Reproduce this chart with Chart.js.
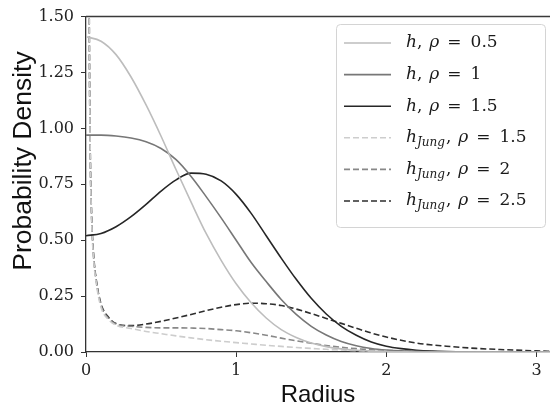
<!DOCTYPE html>
<html>
<head>
<meta charset="utf-8">
<script src="https://cdn.jsdelivr.net/npm/chart.js@4.4.0/dist/chart.umd.min.js"></script>
<style>
  html, body { margin: 0; padding: 0; background: #fff; }
  #wrap { width: 550px; height: 410px; }
</style>
</head>
<body>
<div id="wrap"><canvas id="chart" width="550" height="410"></canvas></div>
<script>
// radius grid for the h curves
const radius = [0, 0.1, 0.2, 0.3, 0.4, 0.5, 0.6, 0.7, 0.8, 0.9, 1.0, 1.1, 1.2, 1.3, 1.4, 1.5,
  1.6, 1.7, 1.8, 1.9, 2.0, 2.1, 2.2, 2.3, 2.4, 2.5, 2.6, 2.7, 2.8, 2.9, 3.0, 3.1];
const hRho05 = [1.41, 1.39, 1.33, 1.23, 1.105, 0.965, 0.815, 0.67, 0.53, 0.41, 0.305, 0.22, 0.152, 0.1, 0.065, 0.04,
  0.024, 0.014, 0.008, 0.004, 0.002, 0.001, 0, 0, 0, 0, 0, 0, 0, 0, 0, 0];
const hRho1 = [0.97, 0.97, 0.966, 0.957, 0.94, 0.91, 0.86, 0.785, 0.695, 0.6, 0.5, 0.4, 0.315, 0.235, 0.168, 0.115,
  0.076, 0.047, 0.028, 0.016, 0.009, 0.005, 0.003, 0.001, 0, 0, 0, 0, 0, 0, 0, 0];
const hRho15 = [0.52, 0.53, 0.56, 0.605, 0.66, 0.72, 0.77, 0.8, 0.795, 0.765, 0.705, 0.62, 0.52, 0.42, 0.325, 0.24,
  0.17, 0.115, 0.075, 0.045, 0.026, 0.015, 0.008, 0.004, 0.002, 0.001, 0, 0, 0, 0, 0, 0];

// radius grid for the h_Jung curves (denser near 0 where they blow up)
const radiusJung = [0.012, 0.016, 0.021, 0.028, 0.037, 0.05, 0.07, 0.1, 0.15, 0.2, 0.3, 0.4, 0.5, 0.6, 0.7, 0.8, 0.9,
  1.0, 1.1, 1.2, 1.3, 1.4, 1.5, 1.6, 1.7, 1.8, 1.9, 2.0, 2.2, 2.4, 2.6, 2.8, 3.0, 3.1];
const hJungRho15 = [6, 3, 1.6, 0.9, 0.6, 0.42, 0.3, 0.2, 0.145, 0.12, 0.105, 0.092, 0.082, 0.072, 0.063, 0.055, 0.048,
  0.042, 0.036, 0.03, 0.025, 0.02, 0.016, 0.012, 0.009, 0.006, 0.004, 0.003, 0.001, 0, 0, 0, 0, 0];
const hJungRho2 = [6, 3, 1.6, 0.91, 0.61, 0.43, 0.31, 0.21, 0.15, 0.125, 0.115, 0.11, 0.108, 0.108, 0.107, 0.105, 0.1,
  0.095, 0.086, 0.075, 0.062, 0.05, 0.039, 0.029, 0.021, 0.015, 0.01, 0.007, 0.003, 0.001, 0, 0, 0, 0];
const hJungRho25 = [6, 3, 1.6, 0.92, 0.62, 0.44, 0.315, 0.215, 0.155, 0.127, 0.118, 0.125, 0.137, 0.152, 0.168, 0.185, 0.2,
  0.212, 0.218, 0.216, 0.208, 0.192, 0.172, 0.15, 0.128, 0.106, 0.085, 0.067, 0.04, 0.026, 0.016, 0.01, 0.005, 0.003];

const xTicks = [0, 1, 2, 3];
const yTicks = [0, 0.25, 0.5, 0.75, 1.0, 1.25, 1.5];

// legend text: h with optional subscript, then rho value
const labelSubs = ['', '', '', 'Jung', 'Jung', 'Jung'];
const labelRhos = ['0.5', '1', '1.5', '1.5', '2', '2.5'];

const pts = (xs, ys) => xs.map((x, i) => ({ x, y: ys[i] }));

const line = (data, color, dashed) => ({
  data,
  borderColor: color,
  borderWidth: 1.6,
  borderDash: dashed ? [6, 3] : [],
  pointRadius: 0,
  fill: false,
  cubicInterpolationMode: "monotone",
});

const serif = '"DejaVu Serif", serif';

const decor = {
  id: "decor",
  afterDraw: (chart) => {
    const { ctx, chartArea } = chart;
    ctx.save();

    // top spine
    ctx.strokeStyle = "#3a3a3a";
    ctx.lineWidth = 1.5;
    ctx.beginPath();
    ctx.moveTo(chartArea.left, chartArea.top);
    ctx.lineTo(chartArea.right, chartArea.top);
    ctx.stroke();

    // y axis title
    ctx.translate(24, 161);
    ctx.rotate(-Math.PI / 2);
    ctx.fillStyle = "#111";
    ctx.font = '26.5px "Liberation Sans", Arial, sans-serif';
    ctx.textAlign = "center";
    ctx.textBaseline = "middle";
    ctx.fillText("Probability Density", 0, 0);
    ctx.restore();

    // legend
    ctx.save();
    ctx.beginPath();
    ctx.roundRect(336.5, 24.5, 209, 203, 4);
    ctx.fillStyle = "rgba(255,255,255,0.85)";
    ctx.fill();
    ctx.strokeStyle = "#d4d4d4";
    ctx.lineWidth = 1;
    ctx.stroke();

    chart.data.datasets.forEach((ds, i) => {
      const y = 43 + i * 31.6;
      ctx.strokeStyle = ds.borderColor;
      ctx.lineWidth = ds.borderWidth;
      ctx.setLineDash(ds.borderDash);
      ctx.beginPath();
      ctx.moveTo(344, y);
      ctx.lineTo(391, y);
      ctx.stroke();
      ctx.setLineDash([]);

      ctx.fillStyle = "#1a1a1a";
      ctx.textAlign = "left";
      ctx.textBaseline = "middle";
      let x = 406;
      ctx.font = "italic 17px " + serif;
      ctx.fillText("h", x, y);
      x += ctx.measureText("h").width;
      if (labelSubs[i]) {
        ctx.font = "italic 12px " + serif;
        ctx.fillText(labelSubs[i], x, y + 5);
        x += ctx.measureText(labelSubs[i]).width + 1;
      }
      ctx.font = "17px " + serif;
      ctx.fillText(",", x, y);
      x += ctx.measureText(",").width + 7;
      ctx.font = "italic 17px " + serif;
      ctx.fillText("\u03c1", x, y);
      x += ctx.measureText("\u03c1").width + 8;
      ctx.font = "17px " + serif;
      ctx.fillText("=", x, y);
      x += ctx.measureText("=").width + 9;
      ctx.fillText(labelRhos[i], x, y);
    });
    ctx.restore();
  },
};

const canvas = document.getElementById("chart");

new Chart(canvas, {
  type: "line",
  data: {
    datasets: [
      line(pts(radius, hRho05), "#bdbdbd", false),
      line(pts(radius, hRho1), "#777777", false),
      line(pts(radius, hRho15), "#262626", false),
      line(pts(radiusJung, hJungRho15), "#cdcdcd", true),
      line(pts(radiusJung, hJungRho2), "#888888", true),
      line(pts(radiusJung, hJungRho25), "#2e2e2e", true),
    ],
  },
  options: {
    responsive: false,
    animation: false,
    layout: { padding: { top: 12, right: 0, left: 0, bottom: 0 } },
    scales: {
      x: {
        type: "linear",
        min: 0,
        max: 3.09,
        afterBuildTicks: (s) => {
          s.ticks = xTicks.map((v) => ({ value: v }));
        },
        afterFit: (s) => {
          s.height = 58;
        },
        ticks: {
          color: "#222",
          font: { family: serif, size: 16 },
          padding: 4,
          maxRotation: 0,
          callback: (v) => String(v),
        },
        grid: { drawOnChartArea: false, drawTicks: true, tickLength: 5, color: "#333" },
        border: { color: "#333", width: 1.3 },
        title: {
          display: true,
          text: "Radius",
          color: "#111",
          font: { family: '"Liberation Sans", Arial, sans-serif', size: 24 },
          padding: { top: 0, bottom: 0 },
        },
      },
      y: {
        min: 0,
        max: 1.5,
        afterBuildTicks: (s) => {
          s.ticks = yTicks.map((v) => ({ value: v }));
        },
        afterFit: (s) => {
          s.width = 86;
        },
        ticks: {
          color: "#222",
          font: { family: serif, size: 16 },
          padding: 7,
          callback: (v) => v.toFixed(2),
        },
        grid: { drawOnChartArea: false, drawTicks: true, tickLength: 5, color: "#333" },
        border: { color: "#333", width: 1.3 },
      },
    },
    plugins: {
      legend: { display: false },
      tooltip: { enabled: false },
    },
  },
  plugins: [decor],
});
</script>
</body>
</html>
